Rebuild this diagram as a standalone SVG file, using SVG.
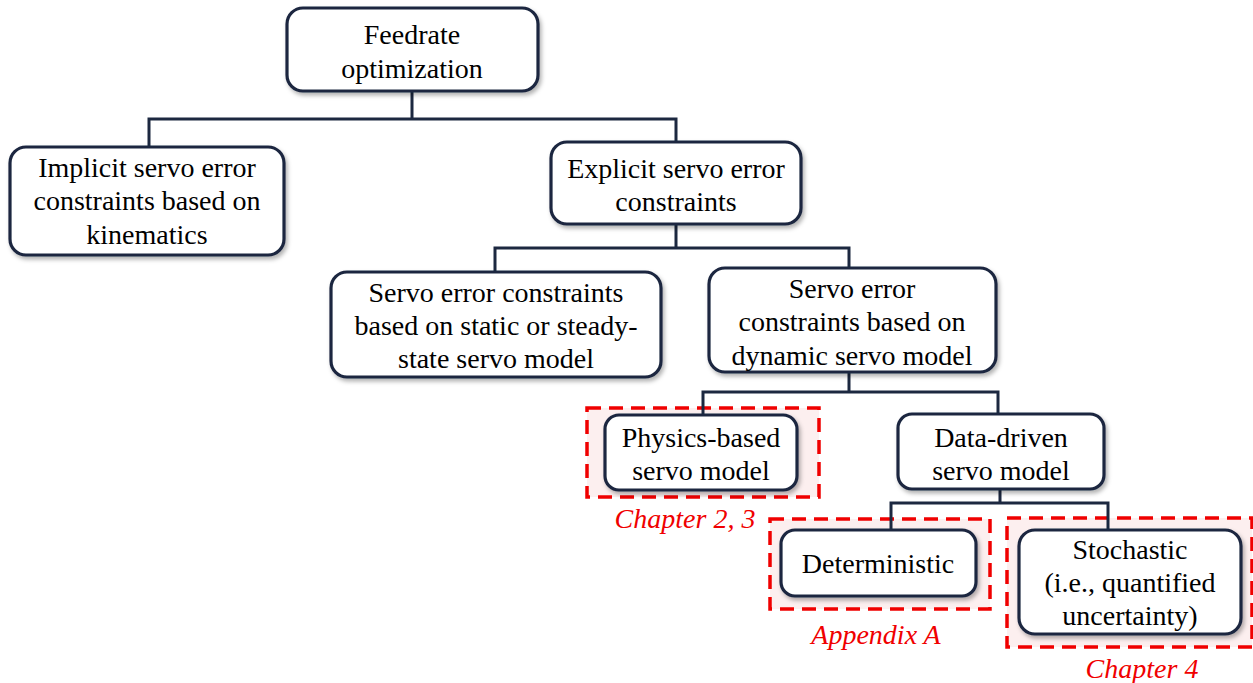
<svg xmlns="http://www.w3.org/2000/svg" width="1253" height="683" viewBox="0 0 1253 683">
<defs>
<filter id="sh" x="-10%" y="-10%" width="125%" height="130%">
<feDropShadow dx="2" dy="3" stdDev="2" flood-color="#000" flood-opacity="0.3"/>
</filter>
</defs>
<style>
.n{fill:#fff;stroke:#1c2840;stroke-width:3.2;filter:url(#sh)}
.t{font-family:"Liberation Serif","Times New Roman",serif;font-size:28px;fill:#000;text-anchor:middle;dominant-baseline:central}
.c{fill:none;stroke:#1c2840;stroke-width:3}
.r{fill:#fcefef;stroke:#f00000;stroke-width:3.5;stroke-dasharray:14,8}
.l{font-family:"Liberation Serif","Times New Roman",serif;font-size:28px;font-style:italic;fill:#f00000;text-anchor:middle;dominant-baseline:central}
</style>
<rect width="1253" height="683" fill="#fff"/>
<g id="highlights">
<rect class="r" x="587" y="408" width="232" height="89"/>
<rect class="r" x="770" y="519" width="220" height="90"/>
<rect class="r" x="1007" y="518" width="245" height="129"/>
<text class="l" x="685" y="518">Chapter 2, 3</text>
<text class="l" x="876" y="634">Appendix A</text>
<text class="l" x="1142" y="668">Chapter 4</text>
</g>
<g id="connectors">
<path class="c" d="M412 91V119M149 147V119H676V142"/>
<path class="c" d="M676 224V248M495 272V248H849V268"/>
<path class="c" d="M849 372V392M703 415V392H998V414"/>
<path class="c" d="M1000 489V503M891 530V503H1108V530"/>
</g>
<g id="feedrate">
<rect class="n" x="287" y="8" width="251" height="83" rx="16"/>
<text class="t" x="412" y="34">Feedrate</text>
<text class="t" x="412" y="68">optimization</text>
</g>
<g id="implicit">
<rect class="n" x="10" y="147" width="274" height="108" rx="16"/>
<text class="t" x="147" y="167">Implicit servo error</text>
<text class="t" x="147" y="200">constraints based on</text>
<text class="t" x="147" y="234">kinematics</text>
</g>
<g id="explicit">
<rect class="n" x="551" y="142" width="250" height="82" rx="16"/>
<text class="t" x="676" y="168">Explicit servo error</text>
<text class="t" x="676" y="201">constraints</text>
</g>
<g id="static">
<rect class="n" x="331" y="272" width="330" height="105" rx="16"/>
<text class="t" x="496" y="292">Servo error constraints</text>
<text class="t" x="496" y="325">based on static or steady-</text>
<text class="t" x="496" y="358">state servo model</text>
</g>
<g id="dynamic">
<rect class="n" x="709" y="268" width="287" height="104" rx="16"/>
<text class="t" x="852" y="288">Servo error</text>
<text class="t" x="852" y="321">constraints based on</text>
<text class="t" x="852" y="355">dynamic servo model</text>
</g>
<g id="physics">
<rect class="n" x="605" y="415" width="192" height="75" rx="14"/>
<text class="t" x="701" y="437">Physics-based</text>
<text class="t" x="701" y="470">servo model</text>
</g>
<g id="datadriven">
<rect class="n" x="898" y="414" width="206" height="75" rx="14"/>
<text class="t" x="1001" y="437">Data-driven</text>
<text class="t" x="1001" y="470">servo model</text>
</g>
<g id="deterministic">
<rect class="n" x="781" y="530" width="195" height="66" rx="14"/>
<text class="t" x="878" y="563">Deterministic</text>
</g>
<g id="stochastic">
<rect class="n" x="1019" y="530" width="222" height="104" rx="16"/>
<text class="t" x="1130" y="549">Stochastic</text>
<text class="t" x="1130" y="582">(i.e., quantified</text>
<text class="t" x="1130" y="615">uncertainty)</text>
</g>
</svg>
